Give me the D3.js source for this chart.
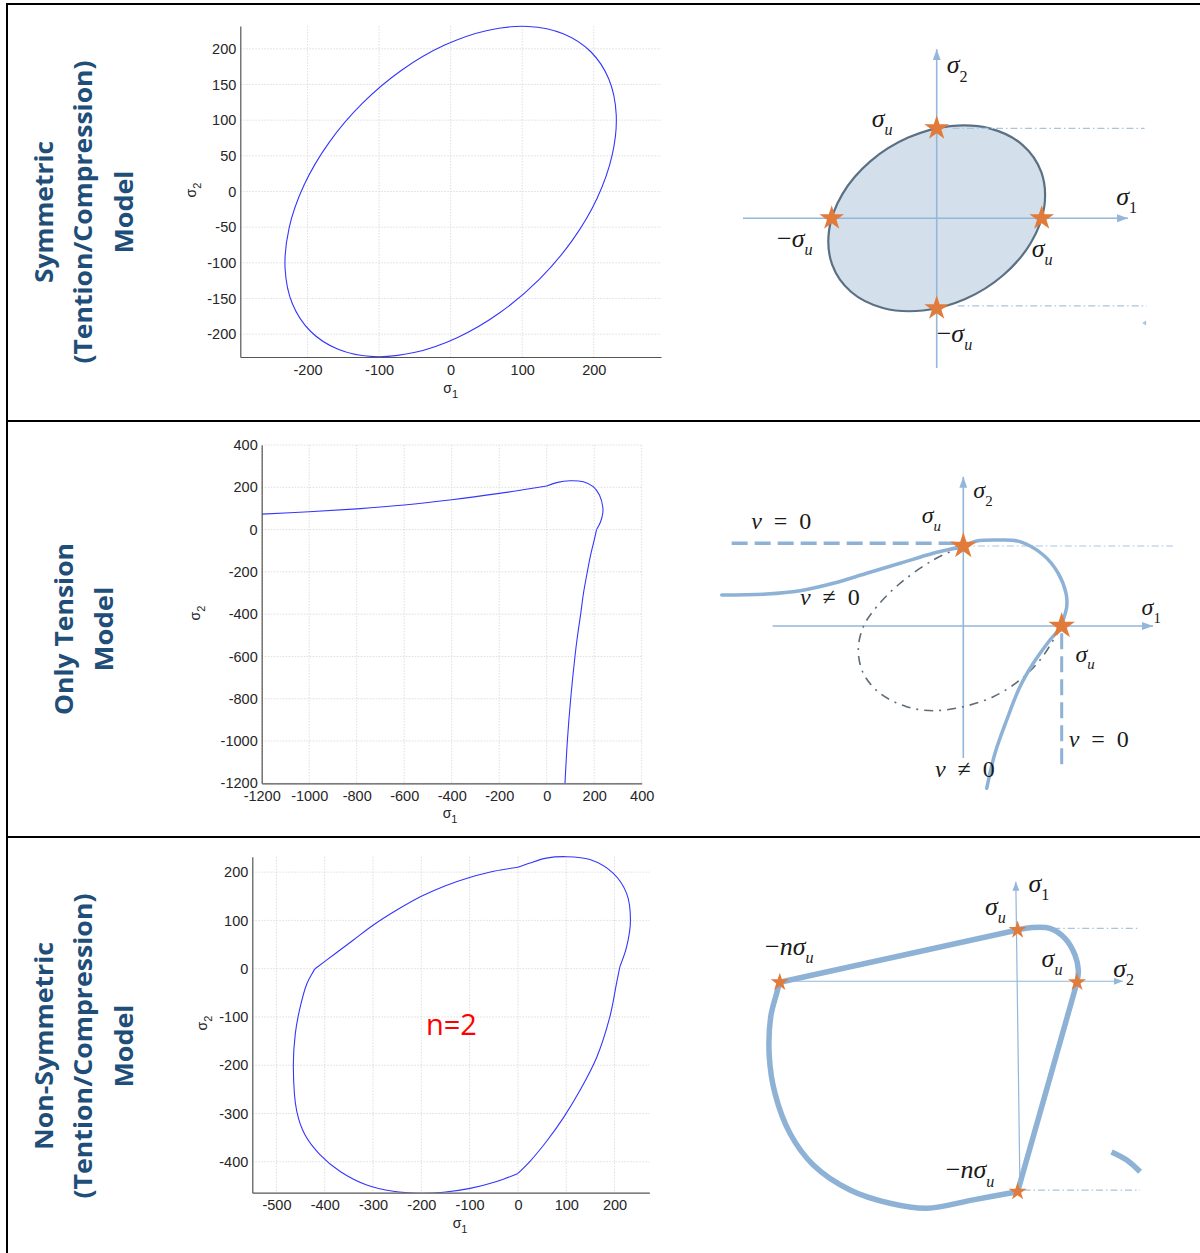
<!DOCTYPE html>
<html>
<head>
<meta charset="utf-8">
<script src="https://cdn.jsdelivr.net/npm/d3@7/dist/d3.min.js"></script>
<style>
  html, body { margin: 0; padding: 0; background: #fff; }
  svg { display: block; }
</style>
</head>
<body>
<svg id="fig" width="1200" height="1253" xmlns="http://www.w3.org/2000/svg"></svg>
<script>
// ---------------- data ----------------
const rowTitles = [
  ["Symmetric", "(Tention/Compression)", "Model"],
  ["Only Tension", "Model"],
  ["Non-Symmetric", "(Tention/Compression)", "Model"]
];

// Symmetric failure envelope (sigma1, sigma2)
const symXTicks = [-200, -100, 0, 100, 200];
const symYTicks = [-200, -150, -100, -50, 0, 50, 100, 150, 200];
const symmetricEnvelope = [
  [195.9, 195.9], [157.3, 221.2], [107.9, 231.4], [51.2, 225.8], [-9.1, 204.9], [-68.6, 170.0],
  [-123.5, 123.5], [-170.0, 68.6], [-204.9, 9.1], [-225.8, -51.2], [-231.4, -107.9], [-221.2, -157.3],
  [-195.9, -195.9], [-157.3, -221.2], [-107.9, -231.4], [-51.2, -225.8], [9.1, -204.9], [68.6, -170.0],
  [123.5, -123.5], [170.0, -68.6], [204.9, -9.1], [225.8, 51.2], [231.4, 107.9], [221.2, 157.3]
];

// Only-tension envelope (open curve); corners where the branches meet
const tensionTicks = [-1200, -1000, -800, -600, -400, -200, 0, 200, 400];
const tensionEnvelope = [
  [-1200, 73], [-1000, 84], [-800, 98], [-600, 116], [-400, 141], [-200, 171], [-100, 188], [0, 206],
  [42, 222], [98, 231], [154, 226], [196, 203], [222, 163], [236, 108], [236, 77], [227, 37], [210, 0],
  [200, -50], [185, -120], [171, -200], [155, -300], [143, -400], [130, -500], [119, -600],
  [101, -800], [87, -1000], [77, -1200]
];
const tensionCorners = [[0, 206], [210, 0]];

// Non-symmetric envelope, n = 2; corners on the axes
const nonSymXTicks = [-500, -400, -300, -200, -100, 0, 100, 200];
const nonSymYTicks = [-400, -300, -200, -100, 0, 100, 200];
const nonSymmetricEnvelope = [
  [0, 210], [25, 219], [59, 229], [100, 232], [149, 226], [197, 198], [225, 156], [233, 101], [225, 45],
  [211, 4], [204, -31], [190, -101], [163, -184], [128, -253], [94, -309], [59, -358], [25, -399], [0, -424],
  [-44, -441], [-99, -455], [-154, -463], [-203, -465], [-258, -461], [-313, -448], [-368, -420],
  [-410, -385], [-441, -344], [-458, -295], [-465, -205], [-461, -135], [-451, -80], [-437, -31], [-420, 0],
  [-380, 30], [-340, 60], [-300, 90], [-250, 122], [-200, 150], [-150, 172], [-100, 189], [-50, 202], [0, 210]
];
const nonSymCorners = [[0, 210], [211, 4], [0, -424], [-420, 0]];
const ratioLabel = "n=2";

// Sketches, in units of sigma_u
const symSketchOutline = [
  [0.8165, 0.8165], [0.5123, 0.9964], [0.1300, 1.0246], [-0.2717, 0.8968], [-0.6325, 0.6325],
  [-0.8968, 0.2717], [-1.0246, -0.1300], [-0.9964, -0.5123], [-0.8165, -0.8165], [-0.5123, -0.9964],
  [-0.1300, -1.0246], [0.2717, -0.8968], [0.6325, -0.6325], [0.8968, -0.2717], [1.0246, 0.1300],
  [0.9964, 0.5123]
];
const symSketchStars = [[1, 0], [0, 1], [-1, 0], [0, -1]];

const tensionSketchCurve = [
  [-2.455, 0.3875], [-1.998, 0.400], [-1.660, 0.441], [-1.321, 0.534], [-0.982, 0.659], [-0.643, 0.784],
  [-0.305, 0.909], [0, 1], [0.136, 1.0625], [0.373, 1.075], [0.576, 1.054], [0.813, 0.8875],
  [0.965, 0.659], [1.044, 0.409], [1.051, 0.241], [1.016, 0.075], [1, 0], [0.881, -0.175],
  [0.711, -0.466], [0.576, -0.759], [0.441, -1.175], [0.322, -1.591], [0.238, -2.029]
];
const tensionSketchEllipse = [
  [0, 1], [-0.305, 0.825], [-0.643, 0.533], [-0.880, 0.241], [-1.016, -0.009], [-1.067, -0.300],
  [-1.016, -0.591], [-0.847, -0.841], [-0.576, -1.009], [-0.305, -1.059], [0, -1.009], [0.305, -0.884],
  [0.576, -0.675], [0.780, -0.425], [0.915, -0.175], [1, 0]
];
const tensionSketchStars = [[0, 1], [1, 0]];

const nonSymSketchUpper = [[0, 1], [0.209, 1.043], [0.545, 1.032], [0.797, 0.841], [0.965, 0.522], [1.021, 0.235], [1, 0]];
const nonSymSketchLower = [
  [0, -4], [-0.745, -4.157], [-1.529, -4.318], [-2.146, -4.222], [-2.818, -3.968], [-3.436, -3.491],
  [-3.829, -2.885], [-4.081, -2.121], [-4.176, -1.421], [-4.152, -0.657], [-4.052, -0.210], [-4, 0]
];
const nonSymSketchStars = [[-4, 0], [0, 1], [1, 0], [0, -4]];
const nonSymSketchStub = [[1.58, -3.24], [1.835, -3.395], [2.06, -3.62]];

// ---------------- drawing ----------------
const svg = d3.select("#fig");
const defs = svg.append("defs");

const SANS = "'Liberation Sans', Arial, sans-serif";
const SERIF = "'Liberation Serif', 'DejaVu Serif', serif";
const BLUE_TITLE = "#1f4e79";
const SKETCH_AXIS = "#94b6d8";
const SKETCH_LINE = "#8db2d5";
const STAR = "#e07b3c";

// table frame
const frame = svg.append("g").attr("stroke", "#000").attr("stroke-width", 2);
frame.append("line").attr("x1", 6).attr("x2", 1200).attr("y1", 4).attr("y2", 4);
frame.append("line").attr("x1", 7).attr("x2", 7).attr("y1", 3).attr("y2", 1253);
[421, 837].forEach(yy => frame.append("line").attr("x1", 7).attr("x2", 1200).attr("y1", yy).attr("y2", yy));

// row titles (rotated)
const titleLayout = [
  { cy: 212, xs: [53, 92, 133], lens: [142, 303, 83] },
  { cy: 629, xs: [73, 113], lens: [172, 85] },
  { cy: 1046, xs: [53, 92, 133], lens: [208, 305, 83] }
];
rowTitles.forEach((lines, r) => {
  const L = titleLayout[r];
  lines.forEach((txt, i) => {
    svg.append("text")
      .attr("transform", `translate(${L.xs[i]},${L.cy}) rotate(-90)`)
      .attr("text-anchor", "middle")
      .attr("font-family", "'Open Sans', 'Noto Sans', sans-serif")
      .attr("font-weight", 700)
      .attr("font-size", 25)
      .attr("fill", BLUE_TITLE)
      .attr("textLength", L.lens[i])
      .attr("lengthAdjust", "spacingAndGlyphs")
      .text(txt);
  });
});

// sigma axis label with numeric subscript
function sigmaLabel(g, x, y, sub, rotate) {
  const t = g.append("text")
    .attr("transform", `translate(${x},${y})${rotate ? " rotate(-90)" : ""}`)
    .attr("text-anchor", "middle")
    .attr("font-family", SANS).attr("font-size", 14).attr("fill", "#262626");
  t.append("tspan").text("σ");
  t.append("tspan").attr("dy", 5).attr("font-size", 11).text(sub);
}

const fmt = d => String(d);

// split a point list into smooth pieces that meet at the given corner points
function splitAtCorners(points, corners) {
  const isCorner = p => corners.some(c => c[0] === p[0] && c[1] === p[1]);
  const pieces = [];
  let cur = [];
  points.forEach((p, i) => {
    cur.push(p);
    if (isCorner(p) && cur.length > 1) { pieces.push(cur); cur = [p]; }
  });
  if (cur.length > 1) pieces.push(cur);
  return pieces;
}

function drawPlot(cfg) {
  const { id, box, xDomain, yDomain, xTicks, yTicks, data, closed, corners } = cfg;
  const x = d3.scaleLinear().domain(xDomain).range([box.l, box.r]);
  const y = d3.scaleLinear().domain(yDomain).range([box.b, box.t]);
  const g = svg.append("g");

  defs.append("clipPath").attr("id", "clip-" + id).append("rect")
    .attr("x", box.l).attr("y", box.t - 1).attr("width", box.r - box.l).attr("height", box.b - box.t + 1);

  const grid = g.append("g").attr("stroke", "#d6d6d6").attr("stroke-width", 0.8).attr("stroke-dasharray", "1.5,1.5");
  grid.selectAll("line.gx").data(xTicks).join("line").attr("class", "gx")
    .attr("x1", d => x(d)).attr("x2", d => x(d)).attr("y1", box.t).attr("y2", box.b);
  grid.selectAll("line.gy").data(yTicks).join("line").attr("class", "gy")
    .attr("x1", box.l).attr("x2", box.r).attr("y1", d => y(d)).attr("y2", d => y(d));

  const curveG = g.append("g").attr("clip-path", `url(#clip-${id})`)
    .attr("fill", "none").attr("stroke", "#3535ff").attr("stroke-width", 1.1).attr("stroke-linejoin", "round");
  if (corners) {
    const line = d3.line().x(d => x(d[0])).y(d => y(d[1])).curve(d3.curveCatmullRom.alpha(0.5));
    curveG.selectAll("path").data(splitAtCorners(data, corners)).join("path").attr("d", line);
  } else {
    const line = d3.line().x(d => x(d[0])).y(d => y(d[1]))
      .curve(closed ? d3.curveCatmullRomClosed.alpha(0.5) : d3.curveCatmullRom.alpha(0.5));
    curveG.append("path").datum(data).attr("d", line);
  }

  const styleAxis = a => {
    a.attr("font-family", SANS).attr("font-size", 14.5);
    a.select(".domain").attr("stroke", "#555").attr("stroke-width", 1.2);
    a.selectAll(".tick line").remove();
    a.selectAll(".tick text").attr("fill", "#262626");
  };
  g.append("g").attr("transform", `translate(0,${box.b})`)
    .call(d3.axisBottom(x).tickValues(xTicks).tickFormat(fmt).tickSize(0).tickPadding(7.5))
    .call(styleAxis);
  g.append("g").attr("transform", `translate(${box.l},0)`)
    .call(d3.axisLeft(y).tickValues(yTicks).tickFormat(fmt).tickSize(0).tickPadding(4))
    .call(styleAxis);

  sigmaLabel(g, cfg.xLabel[0], cfg.xLabel[1], "1", false);
  sigmaLabel(g, cfg.yLabel[0], cfg.yLabel[1], "2", true);
  return { x, y, g };
}

drawPlot({
  id: "sym", box: { l: 240.3, r: 661, t: 26, b: 357 },
  xDomain: [-294, 294], yDomain: [-232, 232],
  xTicks: symXTicks, yTicks: symYTicks, data: symmetricEnvelope, closed: true,
  xLabel: [450.7, 393], yLabel: [196, 190]
});
drawPlot({
  id: "ten", box: { l: 261.7, r: 641.7, t: 445, b: 783.3 },
  xDomain: [-1200, 400], yDomain: [-1200, 400],
  xTicks: tensionTicks, yTicks: tensionTicks, data: tensionEnvelope, corners: tensionCorners,
  xLabel: [450, 818], yLabel: [200, 613]
});
const p3 = drawPlot({
  id: "nsym", box: { l: 252.3, r: 649.3, t: 856.7, b: 1192.7 },
  xDomain: [-550, 272], yDomain: [-464, 232],
  xTicks: nonSymXTicks, yTicks: nonSymYTicks, data: nonSymmetricEnvelope, corners: nonSymCorners,
  xLabel: [460, 1227.5], yLabel: [207, 1023]
});
p3.g.append("text").attr("x", 426).attr("y", 1035)
  .attr("font-family", "'Open Sans', 'Noto Sans', sans-serif").attr("font-size", 29)
  .attr("fill", "#ff0000").text(ratioLabel);

// ---------------- sketches ----------------
function arrowMarker(id, color, len, wid) {
  defs.append("marker").attr("id", id)
    .attr("viewBox", `0 0 ${len} ${wid}`).attr("refX", len).attr("refY", wid / 2)
    .attr("markerWidth", len).attr("markerHeight", wid)
    .attr("markerUnits", "userSpaceOnUse").attr("orient", "auto")
    .append("path").attr("d", `M0,0L${len},${wid / 2}L0,${wid}Z`).attr("fill", color);
}
arrowMarker("arrowBig", SKETCH_AXIS, 11, 8);
arrowMarker("arrowSmall", SKETCH_AXIS, 9, 7);

function mathText(g, px, py, parts, size) {
  const t = g.append("text").attr("x", px).attr("y", py)
    .attr("font-family", SERIF).attr("font-size", size).attr("fill", "#1a1a1a");
  let shift = 0;
  parts.forEach(p => {
    const s = t.append("tspan").text(p.t);
    if (p.i) s.attr("font-style", "italic");
    const want = p.sub ? size * 0.32 : 0;
    if (want !== shift) { s.attr("dy", want - shift); shift = want; }
    if (p.sub) s.attr("font-size", size * 0.62);
  });
  return t;
}
const SIG_U = [{ t: "σ", i: 1 }, { t: "u", i: 1, sub: 1 }];
const NEG_SIG_U = [{ t: "−" }, ...SIG_U];
const NEG_N_SIG_U = [{ t: "−" }, { t: "n", i: 1 }, ...SIG_U];
const SIG = k => [{ t: "σ", i: 1 }, { t: k, sub: 1 }];
const NU_EQ = [{ t: "ν", i: 1 }, { t: "\u2002=\u20020" }];
const NU_NE = [{ t: "ν", i: 1 }, { t: "\u2002≠\u20020" }];

function stars(g, sx, sy, pts, r) {
  const size = r * r / 0.8908130915292852;
  g.selectAll("path.star").data(pts).join("path").attr("class", "star")
    .attr("transform", d => `translate(${sx(d[0])},${sy(d[1])})`)
    .attr("d", d3.symbol(d3.symbolStar, size)).attr("fill", STAR);
}
function segment(g, sx, sy, a, b) {
  return g.append("line").attr("x1", sx(a[0])).attr("y1", sy(a[1])).attr("x2", sx(b[0])).attr("y2", sy(b[1]));
}

// Sketch 1: symmetric ellipse
{
  const sx = d3.scaleLinear().domain([0, 1]).range([936.7, 1041.7]);
  const sy = d3.scaleLinear().domain([0, 1]).range([218.3, 128.3]);
  const g = svg.append("g");
  const closedLine = d3.line().x(d => sx(d[0])).y(d => sy(d[1])).curve(d3.curveCatmullRomClosed.alpha(0.5));
  g.append("path").datum(symSketchOutline).attr("d", closedLine)
    .attr("fill", "#d3e0ec").attr("stroke", "#5b7083").attr("stroke-width", 2.2);
  const dd = g.append("g").attr("stroke", "#a9c4de").attr("stroke-width", 1.2).attr("stroke-dasharray", "7,3,1.5,3");
  segment(dd, sx, sy, [0.15, 1.0], [1.98, 1.0]);
  segment(dd, sx, sy, [0.2, -0.974], [2.0, -0.974]);
  g.append("path").attr("transform", `translate(${sx(1.985)},${sy(-1.163)})`)
    .attr("d", "M-3,0L1,-2.5L1,2.5Z").attr("fill", "#a9c4de");
  const ax = g.append("g").attr("stroke", SKETCH_AXIS).attr("stroke-width", 1.6);
  segment(ax, sx, sy, [-1.845, 0], [1.822, 0]).attr("marker-end", "url(#arrowBig)");
  segment(ax, sx, sy, [0, -1.663], [0, 1.878]).attr("marker-end", "url(#arrowBig)");
  stars(g, sx, sy, symSketchStars, 13);
  const L = (p, parts) => mathText(g, sx(p[0]), sy(p[1]), parts, 26);
  L([0.095, 1.611], SIG("2"));
  L([-0.619, 1.019], SIG_U);
  L([-1.521, -0.315], NEG_SIG_U);
  L([0.905, -0.427], SIG_U);
  L([0, -1.370], NEG_SIG_U);
  L([1.710, 0.148], SIG("1"));
}

// Sketch 2: only tension
{
  const sx = d3.scaleLinear().domain([0, 1]).range([963.3, 1061.7]);
  const sy = d3.scaleLinear().domain([0, 1]).range([626, 546]);
  const g = svg.append("g");
  const ax = g.append("g").attr("stroke", SKETCH_AXIS).attr("stroke-width", 1.6);
  segment(ax, sx, sy, [-1.937, 0], [1.928, 0]).attr("marker-end", "url(#arrowBig)");
  segment(ax, sx, sy, [0, -1.65], [0, 1.866]).attr("marker-end", "url(#arrowBig)");
  const dd = g.append("g").attr("stroke", "#a9c4de").attr("stroke-width", 1.2).attr("stroke-dasharray", "7,3,1.5,3");
  segment(dd, sx, sy, [0, 1], [2.13, 1]);
  const open = d3.line().x(d => sx(d[0])).y(d => sy(d[1])).curve(d3.curveCatmullRom.alpha(0.5));
  g.append("path").datum(tensionSketchEllipse).attr("d", open).attr("fill", "none")
    .attr("stroke", "#5f6b76").attr("stroke-width", 1.6).attr("stroke-dasharray", "9,6,2,6");
  g.append("path").datum(tensionSketchCurve).attr("d", open).attr("fill", "none")
    .attr("stroke", SKETCH_LINE).attr("stroke-width", 3.5).attr("stroke-linecap", "round");
  const dash = g.append("g").attr("stroke", SKETCH_LINE).attr("stroke-width", 3.5).attr("stroke-dasharray", "16,7");
  segment(dash, sx, sy, [-2.354, 1.034], [0, 1.034]);
  segment(dash, sx, sy, [1, -0.09], [1, -1.775]).attr("stroke-width", 3);
  stars(g, sx, sy, tensionSketchStars, 14);
  const L = (p, parts) => mathText(g, sx(p[0]), sy(p[1]), parts, 24);
  L([-2.156, 1.2125], NU_EQ);
  L([-0.423, 1.284], SIG_U);
  L([0.102, 1.596], SIG("2"));
  L([-1.660, 0.2625], NU_NE);
  L([1.812, 0.1375], SIG("1"));
  L([1.140, -0.446], SIG_U);
  L([1.071, -1.508], NU_EQ);
  L([-0.288, -1.884], NU_NE);
}

// Sketch 3: non-symmetric
{
  const sx = d3.scaleLinear().domain([0, 1]).range([1017.6, 1077.06]);
  const sy = d3.scaleLinear().domain([0, 1]).range([982.3, 929.96]);
  const g = svg.append("g");
  const ax = g.append("g").attr("stroke", SKETCH_AXIS).attr("stroke-width", 1.2);
  segment(ax, sx, sy, [-4, 0.02], [1.77, 0.02]).attr("marker-end", "url(#arrowSmall)");
  segment(ax, sx, sy, [0.04, -3.97], [-0.03, 1.92]).attr("marker-end", "url(#arrowSmall)");
  const dd = g.append("g").attr("stroke", "#a9c4de").attr("stroke-width", 1.2).attr("stroke-dasharray", "7,3,1.5,3");
  segment(dd, sx, sy, [0.6, 1.03], [2.06, 1.03]);
  segment(dd, sx, sy, [0.1, -3.97], [2.06, -3.97]);
  const open = d3.line().x(d => sx(d[0])).y(d => sy(d[1])).curve(d3.curveCatmullRom.alpha(0.5));
  const thick = g.append("g").attr("fill", "none").attr("stroke", SKETCH_LINE)
    .attr("stroke-width", 5.5).attr("stroke-linecap", "round").attr("stroke-linejoin", "round");
  thick.append("path").datum([nonSymSketchStars[0], nonSymSketchStars[1]]).attr("d", open);
  thick.append("path").datum(nonSymSketchUpper).attr("d", open);
  thick.append("path").datum([nonSymSketchStars[2], nonSymSketchStars[3]]).attr("d", open);
  thick.append("path").datum(nonSymSketchLower).attr("d", open);
  thick.append("path").datum(nonSymSketchStub).attr("d", open).attr("stroke-linecap", "butt");
  stars(g, sx, sy, nonSymSketchStars, 9.5);
  const L = (p, parts) => mathText(g, sx(p[0]), sy(p[1]), parts, 26);
  L([0.182, 1.731], SIG("1"));
  L([-0.548, 1.286], SIG_U);
  L([-4.248, 0.522], NEG_N_SIG_U);
  L([0.404, 0.300], SIG_U);
  L([1.609, 0.110], SIG("2"));
  L([-1.208, -3.745], NEG_N_SIG_U);
}
</script>
</body>
</html>
